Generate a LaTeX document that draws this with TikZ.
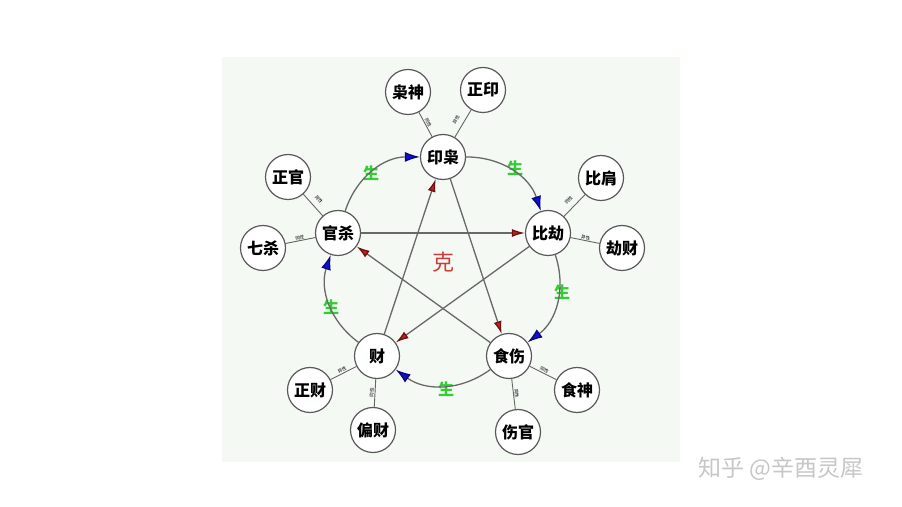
\documentclass[tikz,border=0pt]{standalone}
\usepackage{fontspec}
\newfontfamily\cjk{Noto Sans CJK SC}
\usetikzlibrary{arrows.meta}
\definecolor{panel}{RGB}{244,249,244}
\definecolor{edgegray}{RGB}{105,105,105}
\definecolor{shenggreen}{RGB}{50,205,50}
\definecolor{kered}{RGB}{205,60,60}
\definecolor{tipblue}{RGB}{15,15,215}
\definecolor{tipred}{RGB}{200,30,30}

\begin{document}
\begin{tikzpicture}[x=1pt, y=1pt, line join=round, line cap=round]
   % Styles
   \tikzset{
    elem/.style={circle, draw=black!65, fill=white, line width=1.2pt, minimum size=45pt, inner sep=0pt, font=\cjk\bfseries\fontsize{16}{16}\selectfont},
    spoke/.style={draw=black!60, line width=0.9pt},
    tag/.style={font=\cjk\fontsize{4.5}{4.5}\selectfont, inner sep=0.5pt, sloped, pos=0.5},
    gen/.style={draw=edgegray, line width=1.3pt, -{Latex[length=15pt, width=10pt, color=tipblue!55!black, fill=tipblue]}},
    ctrl/.style={draw=edgegray, line width=1.3pt, -{Latex[length=13pt, width=8pt, color=tipred!55!black, fill=tipred]}},
    shenglab/.style={text=shenggreen, font=\cjk\bfseries\fontsize{16}{16}\selectfont}
   }
  % Canvas
  \useasboundingbox (0,0) rectangle (902,506);
  \fill[white] (0,0) rectangle (902,506);
  \fill[panel] (222,44) rectangle (680,449);
  % Nodes (ring)
  \node[elem] (yin)  at (443,349) {印枭};
  \node[elem] (bi)   at (548,273) {比劫};
  \node[elem] (shi)  at (509,150) {食伤};
  \node[elem] (cai)  at (377,150) {财};
  \node[elem] (guan) at (338,273) {官杀};
  % Nodes (outer)
  \node[elem] (xiao)    at (408,414) {枭神};
  \node[elem] (zhengy)  at (483,416) {正印};
  \node[elem] (bijian)  at (601,328) {比肩};
  \node[elem] (jiecai)  at (622,258) {劫财};
  \node[elem] (shishen) at (577,116) {食神};
  \node[elem] (shang)   at (518,74)  {伤官};
  \node[elem] (zhengc)  at (310,116) {正财};
  \node[elem] (pian)    at (373,76)  {偏财};
  \node[elem] (zhengg)  at (288,329) {正官};
  \node[elem] (qisha)   at (263,258) {七杀};
  % Labels
  \node[text=kered, font=\cjk\fontsize{22}{22}\selectfont] (ke) at (443,244) {克};
  \node[shenglab] (s1) at (371,333) {生};
  \node[shenglab] (s2) at (515,338) {生};
  \node[shenglab] (s3) at (562,214) {生};
  \node[shenglab] (s4) at (446,117) {生};
  \node[shenglab] (s5) at (331,199) {生};
  \node[text=black!22, font=\cjk\fontsize{23}{23}\selectfont] (mark) at (781,37) {知乎 @辛酉灵犀};
  % Edges (spokes)
  \draw[spoke] (xiao) -- node[tag, above] {同性} (yin);
  \draw[spoke] (yin) -- node[tag, above=5pt] {异性} (zhengy);
  \draw[spoke] (bi) -- node[tag, above=5pt] {同性} (bijian);
  \draw[spoke] (bi) -- node[tag, above] {异性} (jiecai);
  \draw[spoke] (shi) -- node[tag, above] {同性} (shishen);
  \draw[spoke] (shang) -- node[tag, above] {异性} (shi);
  \draw[spoke] (zhengc) -- node[tag, above] {异性} (cai);
  \draw[spoke] (pian) -- node[tag, above] {同性} (cai);
  \draw[spoke] (zhengg) -- node[tag, above=5pt] {异性} (guan);
  \draw[spoke] (qisha) -- node[tag, above] {同性} (guan);
  % Edges (generating ring)
  \draw[gen] (guan) to[bend left=36] (yin);
  \draw[gen] (yin) to[bend left=36] (bi);
  \draw[gen] (bi) to[bend left=36] (shi);
  \draw[gen] (shi) to[bend left=36] (cai);
  \draw[gen] (cai) to[bend left=36] (guan);
  % Edges (controlling star)
  \draw[ctrl] (guan) -- (bi);
  \draw[ctrl] (bi) -- (cai);
  \draw[ctrl] (cai) -- (yin);
  \draw[ctrl] (yin) -- (shi);
  \draw[ctrl] (shi) -- (guan);
\end{tikzpicture}
\end{document}
